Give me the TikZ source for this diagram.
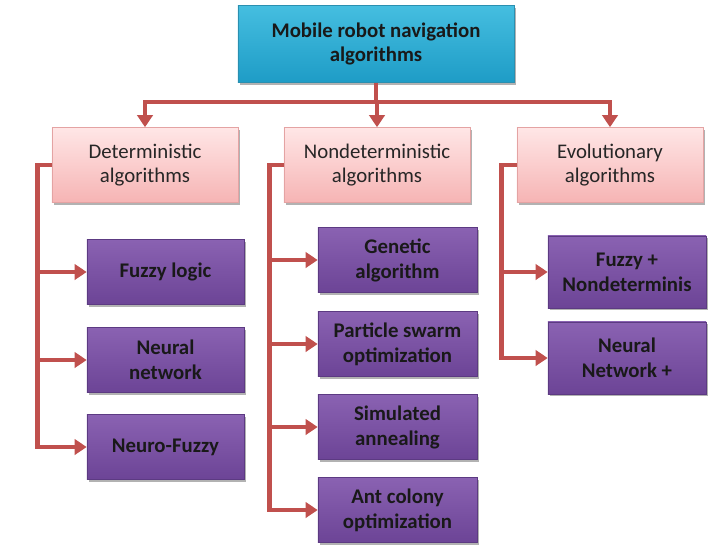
\documentclass[tikz,border=0pt]{standalone}
\usepackage{fontspec}
\setmainfont{Carlito}
\usepackage{tikz}
\usetikzlibrary{arrows.meta,shadows}

\definecolor{roottop}{HTML}{45BEE0}
\definecolor{rootbot}{HTML}{1E9CC6}
\definecolor{rootedge}{HTML}{2A8FB0}
\definecolor{pinktop}{HTML}{FFE6E6}
\definecolor{pinkbot}{HTML}{F6B4B4}
\definecolor{pinkedge}{HTML}{E4A3A3}
\definecolor{purptop}{HTML}{8A62B2}
\definecolor{purpbot}{HTML}{6C4496}
\definecolor{purpedge}{HTML}{5C3A82}
\definecolor{linkred}{HTML}{C0504D}

\begin{document}
\begin{tikzpicture}[x=0.025cm,y=-0.025cm,
    boxshadow/.style={drop shadow={shadow xshift=1.5pt,shadow yshift=-1.5pt,opacity=0.3,fill=black}},
    rootbox/.style={draw=rootedge,top color=roottop,bottom color=rootbot,boxshadow,
      minimum width=6.9cm,minimum height=1.925cm,align=center,text=black!90,
      font=\fontsize{14.8}{17.5}\selectfont\bfseries},
    catbox/.style={draw=pinkedge,top color=pinktop,bottom color=pinkbot,boxshadow,
      minimum width=4.65cm,minimum height=1.875cm,align=center,text=black!85,
      font=\fontsize{14.8}{17.5}\selectfont},
    algobox/.style={draw=purpedge,top color=purptop,bottom color=purpbot,boxshadow,
      minimum height=1.625cm,align=center,text=black!90,
      font=\fontsize{14.8}{17.8}\selectfont\bfseries},
    link/.style={draw=linkred,line width=3.5pt,-{Triangle[length=3mm,width=3.8mm]}}]

    \useasboundingbox (0,0) rectangle (720,553);

    % root and the three groups
    \node[rootbox] (root) at (376,44) {Mobile robot navigation\\algorithms};
    \node[catbox] (det) at (145,165) {Deterministic\\algorithms};
    \node[catbox] (nondet) at (377,165) {Nondeterministic\\algorithms};
    \node[catbox] (evo) at (610,165) {Evolutionary\\algorithms};

    % deterministic
    \node[algobox,minimum width=3.925cm] (fuzzy) at (165.5,272) {Fuzzy logic};
    \node[algobox,minimum width=3.925cm] (neural) at (165.5,360) {Neural\\network};
    \node[algobox,minimum width=3.925cm] (neurofuzzy) at (165.5,447) {Neuro-Fuzzy};

    % nondeterministic
    \node[algobox,minimum width=3.975cm] (genetic) at (397.5,260) {Genetic\\algorithm};
    \node[algobox,minimum width=3.975cm] (pso) at (397.5,344) {Particle swarm\\optimization};
    \node[algobox,minimum width=3.975cm] (annealing) at (397.5,427) {Simulated\\annealing};
    \node[algobox,minimum width=3.975cm] (antcolony) at (397.5,510) {Ant colony\\optimization};

    % evolutionary
    \node[algobox,minimum width=3.95cm,minimum height=1.8cm] (fuzzynd) at (627,272) {Fuzzy +\\Nondeterminis};
    \node[algobox,minimum width=3.95cm,minimum height=1.8cm] (neuralnd) at (627,358) {Neural\\Network +};

    \coordinate (bar) at (376,102);

    \draw[link] (root.south) -- (bar) -| (det.north);
    \draw[link] (root.south) -- (bar) -| (nondet.north);
    \draw[link] (root.south) -- (bar) -| (evo.north);

    \draw[link] (det.west) -- ++(-14,0) |- (fuzzy.west);
    \draw[link] (det.west) -- ++(-14,0) |- (neural.west);
    \draw[link] (det.west) -- ++(-14,0) |- (neurofuzzy.west);

    \draw[link] (nondet.west) -- ++(-14,0) |- (genetic.west);
    \draw[link] (nondet.west) -- ++(-14,0) |- (pso.west);
    \draw[link] (nondet.west) -- ++(-14,0) |- (annealing.west);
    \draw[link] (nondet.west) -- ++(-14,0) |- (antcolony.west);

    \draw[link] (evo.west) -- ++(-15,0) |- (fuzzynd.west);
    \draw[link] (evo.west) -- ++(-15,0) |- (neuralnd.west);
\end{tikzpicture}
\end{document}
